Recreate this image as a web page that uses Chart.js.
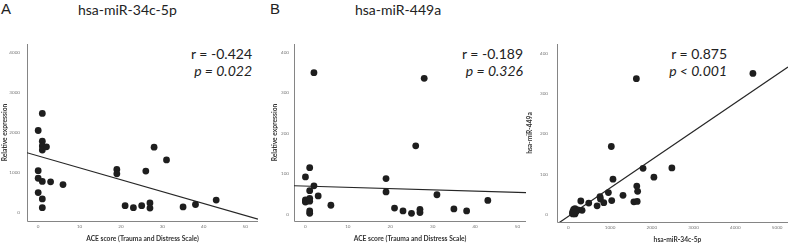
<!DOCTYPE html>
<html lang="en">
<head>
<meta charset="UTF-8">
<title>miRNA scatter</title>
<script src="https://cdn.jsdelivr.net/npm/chart.js"></script>
<style>
  body { margin: 0; background: #fff; width: 792px; height: 244px; overflow: hidden; position: relative; font-family: Lato, "Open Sans", sans-serif; }
  canvas { position: absolute; top: 0; }
  .lbl { position: absolute; color: #222; white-space: nowrap; }
  .letter { font-family: "Liberation Sans", Arial, sans-serif; font-size: 15px; top: 0px; }
  .title { font-size: 14px; top: 1px; }
  .stat { font-size: 14px; text-align: right; line-height: 17px; }
  .stat i { font-style: italic; }
</style>
</head>
<body>

<div class="lbl letter" style="left:1px">A</div>
<div class="lbl title" style="left:78px">hsa-miR-34c-5p</div>
<div class="lbl letter" style="left:270px">B</div>
<div class="lbl title" style="left:355px">hsa-miR-449a</div>

<div class="lbl stat" style="right:540px; top:45px">r = -0.424<br><i>p = 0.022</i></div>
<div class="lbl stat" style="right:269px; top:45px">r = -0.189<br><i>p = 0.326</i></div>
<div class="lbl stat" style="right:65px; top:45px">r = 0.875<br><i>p &lt; 0.001</i></div>

<canvas id="chartA" width="262" height="244" style="left:0px"></canvas>
<canvas id="chartB" width="268" height="244" style="left:262px"></canvas>
<canvas id="chartC" width="267" height="244" style="left:525px"></canvas>

<script>
// panel A: ACE score vs hsa-miR-34c-5p
const aceA = [0, 0, 0, 0, 1, 1, 1, 1, 1, 1, 1, 2, 3, 6, 19, 19, 21, 23, 25, 26, 27, 27, 28, 31, 35, 38, 43];
const exprA = [2050, 1040, 850, 490, 2480, 1780, 1660, 1560, 770, 330, 110, 1640, 760, 690, 1070, 960, 160, 110, 160, 1030, 230, 100, 1630, 1310, 130, 190, 300];
const fitA = [1411, -29.9]; // intercept, slope

// panel B: ACE score vs hsa-miR-449a
const aceB = [0, 0, 0, 0, 1, 1, 1, 1, 1, 1, 2, 2, 3, 6, 19, 19, 21, 23, 25, 26, 27, 27, 28, 31, 35, 38, 43];
const exprB = [92, 35, 32, 30, 115, 58, 39, 32, 8, 2, 350, 70, 45, 22, 88, 55, 15, 8, 2, 169, 12, 4, 336, 48, 13, 8, 34];
const fitB = [69.4, -0.316];

// panel C: hsa-miR-34c-5p vs hsa-miR-449a
const mir34c = [4420, 1630, 1030, 1790, 2480, 2050, 1070, 1640, 1660, 960, 760, 770, 1310, 1040, 1570, 1650, 850, 490, 690, 300, 330, 160, 110, 160, 230, 100, 130, 190, 110];
const mir449a = [350, 337, 169, 115, 116, 93, 88, 71, 58, 55, 45, 39, 48, 35, 32, 33, 30, 29, 22, 34, 11, 15, 8, 2, 12, 4, 13, 8, 2];
const fitC = [-4.2, 0.07034];

const aceTicks = [0, 10, 20, 30, 40, 50];
const exprTicksA = [0, 1000, 2000, 3000, 4000];
const exprTicksB = [0, 100, 200, 300, 400];
const mir34cTicks = [0, 1000, 2000, 3000, 4000, 5000];

const tickFont = { family: 'Lato', size: 4.6 };

// axis lines + axis titles, drawn against the chart area
const axisDecor = {
    id: 'axisDecor',
    beforeDatasetsDraw(chart, args, opts) {
        const ctx = chart.ctx;
        const a = chart.chartArea;
        ctx.save();
        ctx.strokeStyle = '#858585';
        ctx.lineWidth = 1;
        ctx.beginPath();
        ctx.moveTo(Math.round(a.left) + 0.5, a.top);
        ctx.lineTo(Math.round(a.left) + 0.5, Math.round(a.bottom) + 0.5);
        ctx.lineTo(a.right, Math.round(a.bottom) + 0.5);
        ctx.stroke();

        ctx.fillStyle = '#333';
        ctx.font = 'bold 6.7px Lato';
        ctx.textAlign = 'center';
        ctx.textBaseline = 'middle';
        ctx.fillText(opts.xTitle, (a.left + a.right) / 2 + (opts.xShift || 0), opts.xTitleY);
        ctx.translate(opts.yTitleX, (a.top + a.bottom) / 2);
        ctx.rotate(-Math.PI / 2);
        ctx.fillText(opts.yTitle, 0, 0);
        ctx.restore();
    }
};

function points(xs, ys) {
    return xs.map((x, i) => ({ x: x, y: ys[i] }));
}

function fitLine(fit, xmin, xmax) {
    return [xmin, xmax].map(x => ({ x: x, y: fit[0] + fit[1] * x }));
}

function makeChart(id, o) {
    const ctx = document.getElementById(id).getContext('2d');
    const noGrid = { display: false, drawTicks: false };
    return new Chart(ctx, {
        type: 'scatter',
        data: {
            datasets: [{
                data: points(o.xs, o.ys),
                backgroundColor: '#1e1e1e',
                borderWidth: 0,
                pointRadius: 3.4
            }, {
                type: 'line',
                data: fitLine(o.fit, o.xMin, o.xMax),
                borderColor: '#262626',
                borderWidth: 1.2,
                pointRadius: 0,
                fill: false
            }]
        },
        plugins: [axisDecor],
        options: {
            responsive: false,
            animation: false,
            layout: { padding: o.padding },
            plugins: {
                legend: { display: false },
                tooltip: { enabled: false },
                axisDecor: o.titles
            },
            scales: {
                x: {
                    type: 'linear',
                    min: o.xMin, max: o.xMax,
                    afterBuildTicks: s => { s.ticks = o.xTicks.map(v => ({ value: v })); },
                    afterFit: s => { s.height = o.xHeight; s.paddingLeft = 0; s.paddingRight = 0; },
                    grid: noGrid,
                    border: { display: false },
                    ticks: { font: tickFont, color: '#777', padding: 3, maxRotation: 0, callback: v => String(v) }
                },
                y: {
                    type: 'linear',
                    min: o.yMin, max: o.yMax,
                    afterBuildTicks: s => { s.ticks = o.yTicks.map(v => ({ value: v })); },
                    afterFit: s => { s.width = o.yWidth; s.paddingTop = 0; s.paddingBottom = 0; },
                    grid: noGrid,
                    border: { display: false },
                    ticks: { font: tickFont, color: '#777', padding: o.yPad, callback: v => String(v) }
                }
            }
        }
    });
}

makeChart('chartA', {
    xs: aceA, ys: exprA, fit: fitA,
    xMin: -2.7, xMax: 53.1, yMin: -225, yMax: 4225,
    xTicks: aceTicks, yTicks: exprTicksA,
    titles: { xTitle: 'ACE score (Trauma and Distress Scale)', yTitle: 'Relative expression', xTitleY: 239, yTitleX: 4.5 },
    padding: { left: 0, right: 3, top: 44, bottom: 0 },
    yWidth: 27, xHeight: 23, yPad: 7
});

makeChart('chartB', {
    xs: aceB, ys: exprB, fit: fitB,
    xMin: -2.7, xMax: 52, yMin: -17, yMax: 421,
    xTicks: aceTicks, yTicks: exprTicksB,
    titles: { xTitle: 'ACE score (Trauma and Distress Scale)', yTitle: 'Relative expression', xTitleY: 239, yTitleX: 12.5 },
    padding: { left: 8, right: 4, top: 44, bottom: 0 },
    yWidth: 24, xHeight: 23, yPad: 5
});

makeChart('chartC', {
    xs: mir34c, ys: mir449a, fit: fitC,
    xMin: -270, xMax: 5260, yMin: -18, yMax: 423,
    xTicks: mir34cTicks, yTicks: exprTicksB,
    titles: { xTitle: 'hsa-miR-34c-5p', yTitle: 'hsa-miR-449a', xTitleY: 240, yTitleX: 5, xShift: 5 },
    padding: { left: 0, right: 0, top: 44, bottom: 0 },
    yWidth: 32, xHeight: 22, yPad: 9
});
</script>
</body>
</html>
